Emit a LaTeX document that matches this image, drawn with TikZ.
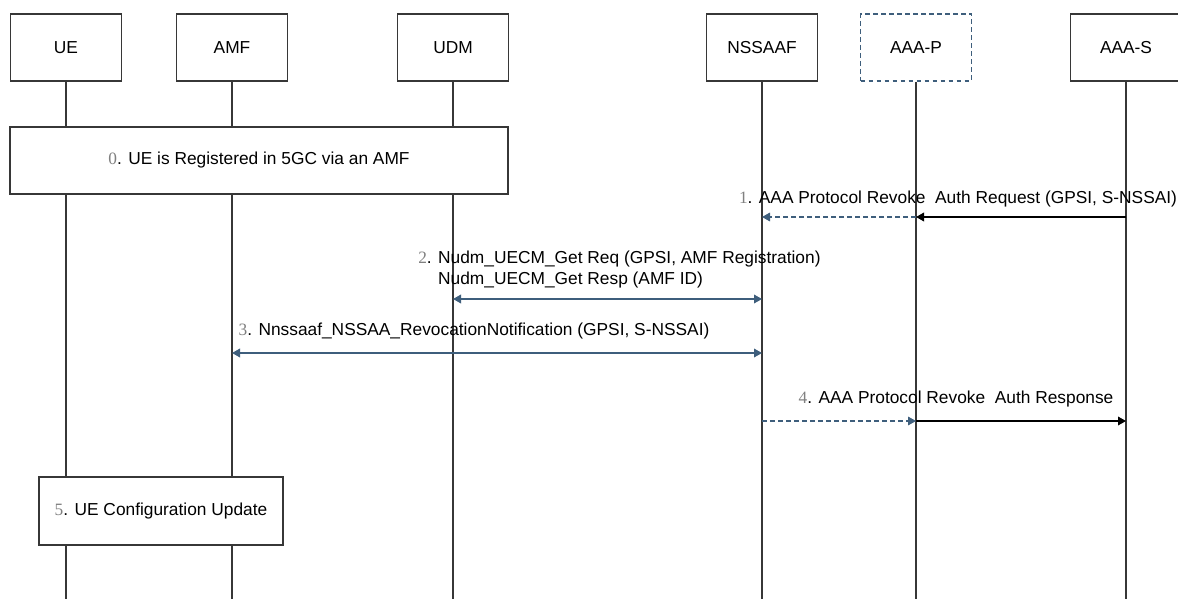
\documentclass[tikz,border=0pt]{standalone}
\usepackage{fontspec}
\setmainfont{Liberation Sans}
\newfontfamily\numfont{Liberation Serif}
\usepackage{tikz}
\usetikzlibrary{arrows.meta, positioning}
\definecolor{msgblue}{RGB}{62,94,124}
\definecolor{linegray}{RGB}{55,55,55}
\newcommand{\stepno}[1]{{\numfont\color{gray}#1}}

\begin{document}
\begin{tikzpicture}[x=0.75pt, y=-0.75pt,
  entity/.style={rectangle, draw=linegray, line width=1pt, fill=white,
                 minimum width=83.25pt, minimum height=50.25pt, inner sep=0pt,
                 font=\fontsize{13}{15}\selectfont},
  proxy/.style={entity, draw=msgblue, dashed, dash pattern=on 3.5pt off 2.5pt},
  stepbox/.style={rectangle, draw=linegray, line width=1pt, fill=white,
                  inner sep=0pt, font=\fontsize{13}{15}\selectfont},
  msglabel/.style={font=\fontsize{13}{15.75}\selectfont, inner sep=0pt},
  life/.style={linegray, line width=1pt},
  reqarr/.style={-{Triangle[length=6pt, width=6.5pt]}, black, line width=1pt},
  proxarr/.style={-{Triangle[length=6pt, width=6.5pt]}, msgblue, line width=0.9pt,
                  dash pattern=on 3.5pt off 2.5pt},
  svcarr/.style={{Triangle[length=6pt, width=6.5pt]}-{Triangle[length=6pt, width=6.5pt]},
                 msgblue, line width=1pt},
]
\useasboundingbox[fill=white] (0,0) rectangle (1178,599);

% entities
\node[entity] (UE)     at (66,47.5)   {UE};
\node[entity] (AMF)    at (232,47.5)  {AMF};
\node[entity] (UDM)    at (453,47.5)  {UDM};
\node[entity] (NSSAAF) at (762,47.5)  {NSSAAF};
\node[proxy]  (AAAP)   at (916,47.5)  {AAA-P};
\node[entity] (AAAS)   at (1126,47.5) {AAA-S};

% lifelines
\foreach \e in {UE, AMF, UDM, NSSAAF, AAAP, AAAS} {
  \coordinate (\e-end) at (\e.south |- 0,599);
  \draw[life] (\e.south) -- (\e-end);
}

% steps 0 and 5
\node[stepbox, minimum width=373.5pt, minimum height=50.25pt] (S0) at (259,160.5)
  {\stepno{0}. UE is Registered in 5GC via an AMF};
\node[stepbox, minimum width=183pt, minimum height=51pt] (S5) at (161,511)
  {\stepno{5}. UE Configuration Update};

% 1
\node[msglabel] (L1) at (958,199) {\stepno{1}. AAA Protocol Revoke\ \ Auth Request (GPSI, S-NSSAI)};
\draw[reqarr]  (AAAS |- 0,217) -- (AAAP |- 0,217);
\draw[proxarr] (AAAP |- 0,217) -- (NSSAAF |- 0,217);

% 2
\node[msglabel, align=left, anchor=north west] (L2) at (418,251)
  {\stepno{2}. Nudm\_UECM\_Get Req (GPSI, AMF Registration)\\
   \phantom{\stepno{2}. }Nudm\_UECM\_Get Resp (AMF ID)};
\draw[svcarr] (UDM |- 0,299) -- (NSSAAF |- 0,299);

% 3
\node[msglabel] (L3) at (474,331) {\stepno{3}. Nnssaaf\_NSSAA\_RevocationNotification (GPSI, S-NSSAI)};
\draw[svcarr] (AMF |- 0,353) -- (NSSAAF |- 0,353);

% 4
\node[msglabel] (L4) at (956,399) {\stepno{4}. AAA Protocol Revoke\ \ Auth Response};
\draw[proxarr] (NSSAAF |- 0,421) -- (AAAP |- 0,421);
\draw[reqarr]  (AAAP |- 0,421) -- (AAAS |- 0,421);
\end{tikzpicture}
\end{document}
